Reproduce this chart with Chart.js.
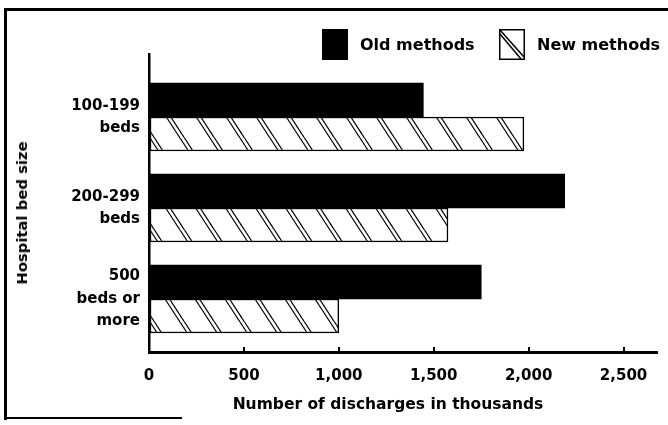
<!DOCTYPE html>
<html>
<head>
<meta charset="utf-8">
<script src="https://cdn.jsdelivr.net/npm/chart.js@4/dist/chart.umd.min.js"></script>
<style>
  html, body { margin: 0; padding: 0; background: #fff; }
  #wrap { position: relative; width: 668px; height: 425px; overflow: hidden; }
  #frame { position: absolute; left: 4px; top: 8px; width: 700px; height: 409px;
           border-left: 3px solid #000; border-top: 3px solid #000; }
  #frameBottom { position: absolute; left: 4px; top: 417px; width: 178px; height: 2px; background: #000; }
  canvas { position: absolute; left: 0; top: 0; }
  .legend { position: absolute; top: 29px; display: flex; align-items: center;
            font: bold 16px "DejaVu Sans", sans-serif; color: #000; }
  .swatch { width: 26px; height: 31px; margin-right: 12px; box-sizing: border-box; }
  .axisTitle { position: absolute; font: bold 15.5px "DejaVu Sans", sans-serif; color: #000;
               white-space: nowrap; line-height: 18px; }
  #xTitle { left: 388px; top: 395px; transform: translateX(-50%); }
  #yTitle { left: 22px; top: 213px; transform: translate(-50%, -50%) rotate(-90deg); font-size: 14.8px; }
</style>
</head>
<body>
<div id="wrap">
  <div id="frame"></div>
  <div id="frameBottom"></div>
  <canvas id="chart" width="668" height="425"></canvas>
  <div class="legend" style="left:322px"><div class="swatch" style="background:#000"></div><span id="lgOld"></span></div>
  <div class="legend" style="left:499px">
    <svg class="swatch" viewBox="0 0 26 31"><rect x="0.75" y="0.75" width="24.5" height="29.5" fill="#fff" stroke="#000" stroke-width="1.5"/><line x1="1" y1="1" x2="25" y2="28" stroke="#000" stroke-width="1.5"/><line x1="1" y1="5" x2="22" y2="30" stroke="#000" stroke-width="1.5"/></svg>
    <span id="lgNew"></span>
  </div>
  <div class="axisTitle" id="xTitle"></div>
  <div class="axisTitle" id="yTitle"></div>
</div>
<script>
const categories = [['100-199', 'beds'], ['200-299', 'beds'], ['500', 'beds or', 'more']];
const oldMethods = [1445, 2190, 1750];
const newMethods = [1975, 1575, 1000];
const xTicks = [0, 500, 1000, 1500, 2000, 2500];
const seriesNames = ['Old methods', 'New methods'];
const xTitle = 'Number of discharges in thousands';
const yTitle = 'Hospital bed size';

const FONT = '"DejaVu Sans", sans-serif';

document.getElementById('lgOld').textContent = seriesNames[0];
document.getElementById('lgNew').textContent = seriesNames[1];
document.getElementById('xTitle').textContent = xTitle;
document.getElementById('yTitle').textContent = yTitle;

// double diagonal hatch, like the printed original
function makeHatch() {
  const w = 30, h = 46;
  const c = document.createElement('canvas');
  c.width = w;
  c.height = h;
  const g = c.getContext('2d');
  g.fillStyle = '#fff';
  g.fillRect(0, 0, w, h);
  g.strokeStyle = '#000';
  g.lineWidth = 1.2;
  [0, 4.5].forEach((o) => {
    for (let k = -1; k <= 1; k++) {
      g.beginPath();
      g.moveTo(o + k * w, 0);
      g.lineTo(o + k * w + w, h);
      g.stroke();
    }
  });
  return g.createPattern(c, 'repeat');
}

const ctx = document.getElementById('chart');
const chart = new Chart(ctx, {
  type: 'bar',
  data: {
    datasets: [
      {
        label: seriesNames[0],
        data: oldMethods.map((v, i) => ({ x: v, y: i })),
        backgroundColor: '#000',
        borderWidth: 0,
      },
      {
        label: seriesNames[1],
        data: newMethods.map((v, i) => ({ x: v, y: i })),
        backgroundColor: makeHatch(),
        borderColor: '#000',
        borderWidth: 1.5,
        borderSkipped: false,
      },
    ],
  },
  options: {
    indexAxis: 'y',
    responsive: false,
    animation: false,
    barThickness: 34,
    layout: { padding: { left: 8, top: 54, right: 11, bottom: 8 } },
    plugins: { legend: { display: false }, tooltip: { enabled: false } },
    scales: {
      x: {
        type: 'linear',
        min: 0,
        max: 2675,
        afterBuildTicks(scale) { scale.ticks = xTicks.map((v) => ({ value: v })); },
        afterFit(scale) { scale.height = 65; },
        ticks: {
          color: '#000',
          padding: 20,
          font: { family: FONT, size: 15, weight: 'bold' },
          callback(v) { return v.toLocaleString('en-US'); },
        },
        grid: { drawOnChartArea: false, color: '#000', lineWidth: 2, tickLength: -5 },
        border: { color: '#000', width: 3 },
      },
      y: {
        type: 'linear',
        reverse: true,
        offset: false,
        min: -0.692,
        max: 2.582,
        afterBuildTicks(scale) { scale.ticks = categories.map((_, i) => ({ value: i })); },
        afterFit(scale) { scale.width = 141; },
        ticks: {
          color: '#000',
          padding: 9,
          font: { family: FONT, size: 15, weight: 'bold', lineHeight: 1.5 },
          callback(v) { return categories[v]; },
        },
        grid: { display: false, drawTicks: false },
        border: { color: '#000', width: 2.5 },
      },
    },
  },
});
</script>
</body>
</html>
